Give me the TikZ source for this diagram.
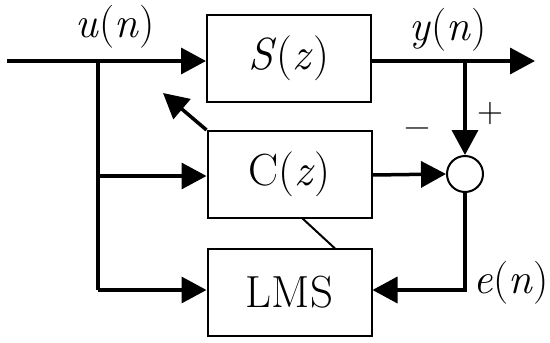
\documentclass[tikz,border=0pt]{standalone}
\usepackage{fontspec}
\usetikzlibrary{arrows.meta}
\begin{document}
\begin{tikzpicture}[x=1pt,y=-1pt,
  blk/.style={draw,line width=2pt,minimum width=164pt,minimum height=87pt,inner sep=0pt,font=\fontsize{45}{48}\selectfont},
  sig/.style={line width=3.5pt,-{Triangle[length=25pt,width=26pt]}},
  wire/.style={line width=3.5pt,line join=miter},
  lbl/.style={font=\fontsize{43}{46}\selectfont,inner sep=0pt},
  sgn/.style={font=\fontsize{36}{40}\selectfont,inner sep=0pt}]
\useasboundingbox (0,0) rectangle (550,343);
\node[blk] (S) at (289,58.5) {\textit{S}(\textit{z})};
\node[blk] (C) at (289.5,174.5) {C(\textit{z})};
\node[blk] (L) at (289.5,292) {LMS};
\node[draw,circle,line width=2pt,minimum size=36pt,inner sep=0pt] (sum) at (465,174) {};
\coordinate (in) at (7,61);
\coordinate (br) at (98,61);
\coordinate (yb) at (465,61);
\coordinate (out) at (535,61);
\coordinate (adp) at (163,93);
\coordinate (lb) at (98,290);
\coordinate (eb) at (465,290);
\draw[sig] (in) -- (S.west |- in);
\draw[wire] (S.east |- yb) -- (yb);
\draw[sig] (yb) -- (out);
\draw[sig] (yb) -- (sum.north);
\draw[wire] (br) -- (lb);
\draw[sig] (98,176) -- (C.west |- 0,176);
\draw[sig] (lb) -- (L.west |- lb);
\draw[sig] (C.east |- 0,175) -- (sum.west);
\draw[wire] (sum.south) -- (eb) -- (455,290);
\draw[sig] (eb) -- (L.east |- eb);
\draw[sig] (C.north west) -- (adp);
\draw[line width=2pt] (335,248.5) -- (302,218);
\node[lbl] (u) at (115,27) {\textit{u}(\textit{n})};
\node[lbl] (y) at (448,30) {\textit{y}(\textit{n})};
\node[lbl] (e) at (511,283) {\textit{e}(\textit{n})};
\node[sgn] (p) at (490,114) {+};
\node[sgn] (m) at (417,133) {−};
\end{tikzpicture}
\end{document}
